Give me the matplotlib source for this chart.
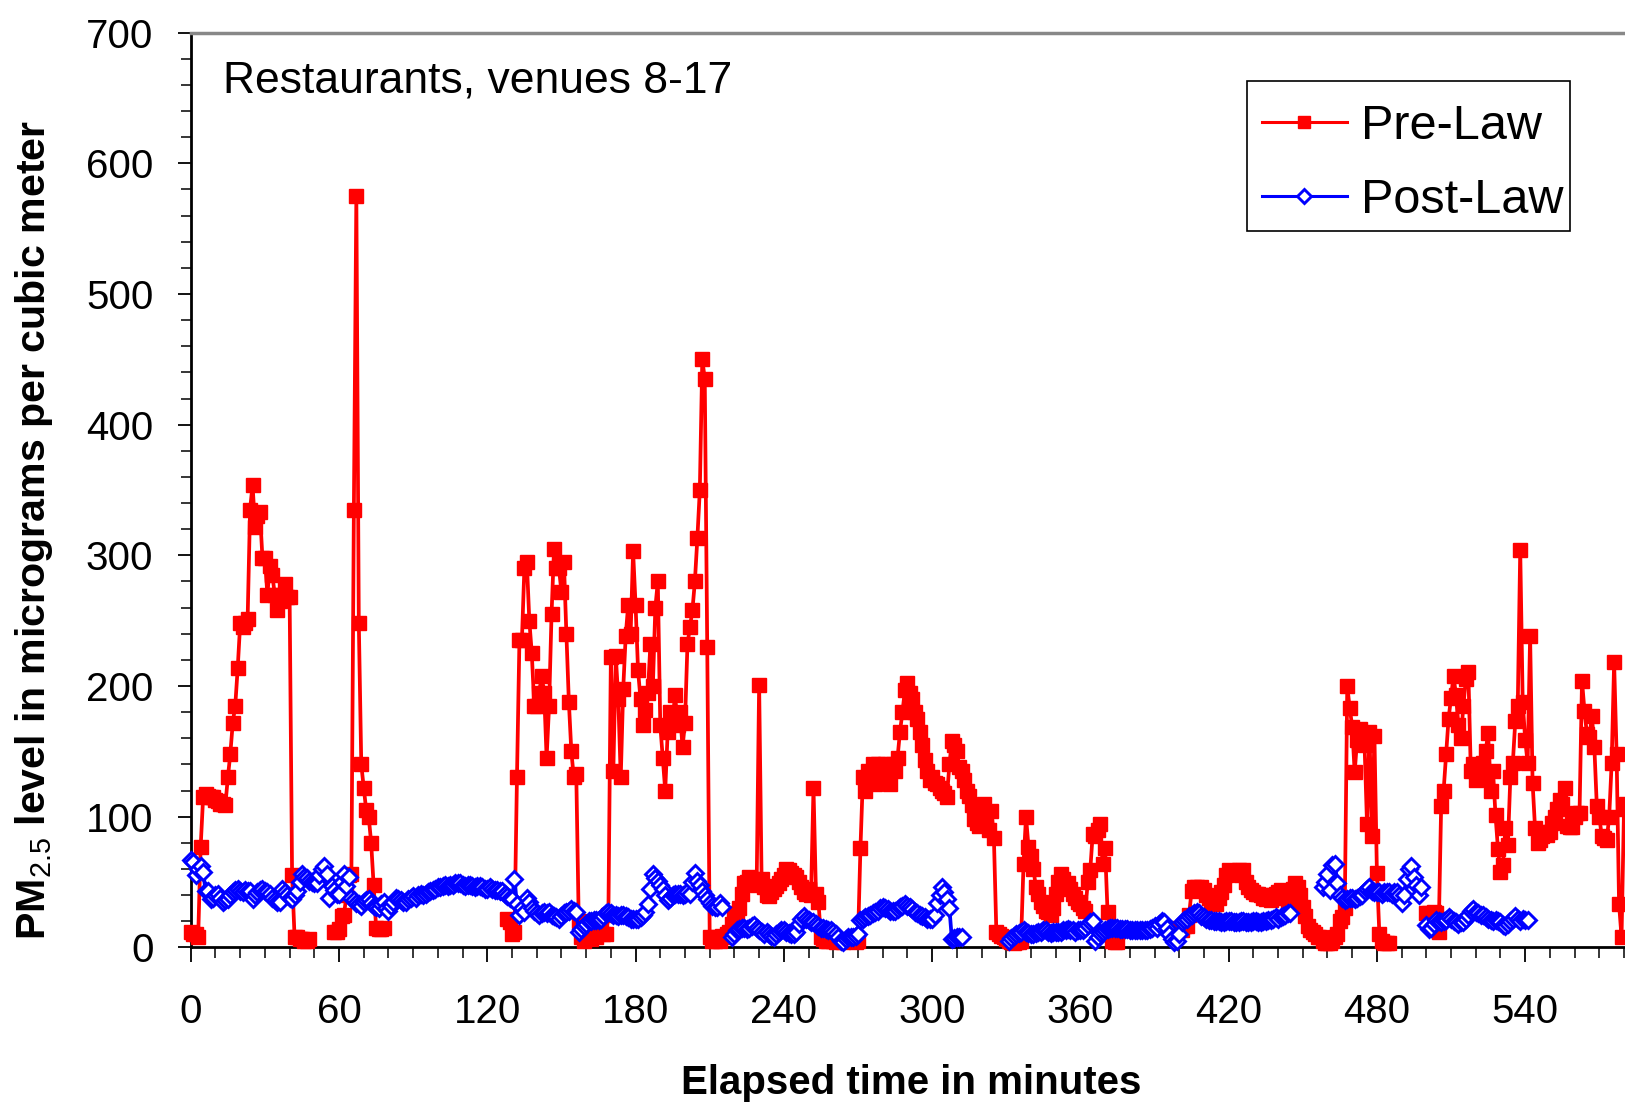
import numpy as np
import matplotlib
matplotlib.use('Agg')
import matplotlib.pyplot as plt
from matplotlib.ticker import MultipleLocator
from matplotlib.patches import Rectangle

# PM2.5 readings, one per minute; each block starts at the given minute.
# Blocks are separate logging runs, so the line breaks between them.

# ---- Pre-Law ----
pre_start_1 = 0
pre_vals_1 = [12, 10, 10, 8, 77, 115, 117, 116, 115, 115,
              113, 112, 110, 110, 109, 130, 148, 172, 185, 214,
              248, 245, 248, 251, 335, 354, 322, 330, 333, 298,
              298, 270, 292, 285, 270, 258, 265, 270, 278, 268,
              268, 55, 8, 8, 6, 6, 5, 5, 6]

pre_start_2 = 58
pre_vals_2 = [12, 12, 14, 24, 25, 40, 55, 56, 335, 575,
              248, 140, 122, 105, 100, 80, 48, 15, 14, 14, 15]

pre_start_3 = 128
pre_vals_3 = [22, 19, 10, 12, 130, 235, 235, 290, 295, 250,
              225, 185, 185, 195, 208, 195, 145, 185, 255, 305,
              290, 290, 272, 295, 240, 188, 150, 130, 133, 20,
              8, 5, 8, 10, 6, 12, 8, 15, 20, 10,
              10, 25, 222, 135, 223, 190, 130, 198, 238, 262,
              240, 303, 262, 212, 190, 170, 182, 195, 232, 200,
              260, 280, 170, 145, 120, 165, 180, 175, 193, 170,
              180, 153, 172, 232, 245, 258, 280, 313, 350, 450,
              435, 230, 8, 5, 5, 8, 5, 9, 8, 10,
              12, 18, 23, 26, 30, 41, 49, 50, 54, 52,
              50, 48, 201, 52, 46, 40, 39, 42, 45, 47,
              49, 52, 55, 60, 59, 57, 55, 54, 50, 46,
              42, 41, 45, 40, 122, 41, 35, 8, 6, 5,
              5, 6, 5, 4, 5, 5, 4, 5, 5, 5,
              5, 4, 5, 76, 130, 120, 135, 130, 140, 125,
              140, 138, 128, 140, 135, 125, 140, 135, 145, 165,
              180, 197, 202, 195, 190, 180, 175, 165, 155, 143,
              135, 128, 130, 126, 125, 122, 120, 118, 115, 140,
              158, 155, 150, 138, 135, 128, 120, 116, 109, 98,
              95, 93, 100, 110, 96, 90, 104, 84, 12, 10,
              9, 8, 6, 5, 4, 3, 4, 4, 5, 64,
              100, 77, 70, 60, 46, 41, 35, 32, 28, 27,
              25, 30, 41, 50, 56, 52, 48, 49, 45, 41,
              38, 35, 33, 30, 28, 50, 59, 87, 85, 90,
              94, 64, 76, 27, 10, 5, 4, 4]

pre_start_4 = 400
pre_vals_4 = [15, 13, 16, 16, 25, 43, 46, 46, 45, 46,
              44, 40, 38, 35, 33, 33, 38, 42, 48, 55,
              59, 58, 58, 57, 59, 55, 59, 50, 46, 44,
              42, 41, 41, 40, 38, 37, 38, 36, 40, 41,
              42, 44, 41, 38, 35, 40, 45, 49, 46, 40,
              31, 24, 16, 13, 12, 10, 8, 8, 5, 3,
              3, 3, 5, 8, 10, 20, 23, 30, 200, 183,
              169, 134, 159, 167, 160, 155, 94, 165, 85, 162,
              57, 10, 5, 3, 3, 3]

pre_start_5 = 500
pre_vals_5 = [26, 26, 25, 27, 26, 12, 108, 120, 148, 175,
              191, 208, 193, 170, 160, 185, 205, 211, 135, 140,
              128, 138, 130, 141, 150, 164, 120, 135, 101, 75,
              58, 63, 91, 78, 130, 141, 173, 185, 304, 188,
              159, 141, 238, 126, 91, 80, 82, 85, 88, 86,
              88, 95, 100, 106, 113, 110, 122, 93, 92, 92,
              100, 103, 103, 204, 181, 163, 161, 177, 153, 108,
              100, 85, 84, 82, 100, 141, 218, 148, 33, 8,
              106, 110]

# ---- Post-Law ----
post_start_1 = 0
post_vals_1 = [67, 65, 55, 60, 62, 58, 43, 43, 37, 38,
               40, 41, 38, 35, 36, 37, 40, 42, 44, 45,
               43, 42, 44, 43, 43, 37, 40, 42, 44, 45,
               43, 42, 41, 38, 36, 35, 35, 45, 42, 40,
               38, 37, 40, 43, 50, 56, 54, 53, 51, 50,
               49, 49, 55, 60, 62, 56, 38, 47, 44, 41,
               41, 50, 56, 47, 54, 38, 36, 34, 33, 32,
               35, 36, 37, 34, 32, 31, 30, 33, 35, 30,
               28, 32, 35, 38, 37, 36, 35, 35, 37, 38,
               39, 38, 40, 41, 40, 41, 42, 43, 44, 45,
               46, 46, 47, 48, 47, 48, 48, 49, 49, 49,
               48, 47, 48, 48, 47, 46, 47, 47, 46, 45,
               45, 46, 45, 44, 44, 43, 43, 41, 39, 38,
               37, 52, 33, 25, 30, 27, 38, 35, 30, 28,
               26, 25, 26, 27, 26, 27, 25, 24, 23, 22,
               24, 26, 27, 28, 29, 28, 27, 12, 14, 16,
               18, 20, 20, 21, 21, 21, 22, 24, 26, 27,
               26, 25, 25, 24, 25, 25, 24, 23, 22, 22,
               22, 22, 23, 25, 27, 33, 45, 56, 53, 51,
               48, 45, 40, 36, 38, 40, 41, 41, 41, 40,
               41, 42, 41, 50, 57, 51, 48, 43, 40, 37,
               34, 32, 31, 31, 34, 31]

post_start_2 = 219
post_vals_2 = [8, 10, 13, 14, 15, 15, 14, 15, 16, 17,
               15, 13, 12, 10, 12, 10, 9, 8, 10, 12,
               13, 13, 12, 11, 10, 10, 12, 18, 22, 24,
               22, 21, 19, 19, 18, 16, 15, 15, 14, 13,
               13, 12, 10, 8, 5, 4, 6, 8, 8, 8,
               9, 10, 21, 22, 23, 24, 25, 26, 27, 28,
               30, 31, 30, 29, 28, 28, 28, 29, 31, 32,
               33, 32, 31, 29, 27, 26, 25, 24, 23, 22,
               22, 22, 25, 34, 40, 46, 42, 37, 30, 6,
               7, 8, 8, 8]

post_start_3 = 331
post_vals_3 = [5, 7, 9, 10, 11, 12, 13, 12, 11, 10,
               10, 11, 12, 12, 13, 13, 12, 11, 12, 12,
               12, 12, 13, 13, 14, 13, 13, 12, 13, 13,
               13, 15, 17, 19, 20, 5, 8, 11, 12, 13,
               14, 15, 15, 15, 15, 14, 14, 14, 14, 13,
               13, 13, 13, 13, 13, 13, 13, 14, 15, 16,
               15, 18, 20, 19, 15, 10, 6, 4, 5, 10,
               19, 21, 22, 24, 25, 26, 27, 26, 24, 23,
               22, 21, 21, 20, 20, 20, 19, 19, 20, 20,
               20, 19, 19, 19, 20, 20, 19, 19, 19, 20,
               20, 19, 19, 20, 20, 21, 21, 22, 23, 22,
               23, 24, 25, 26, 26]

post_start_4 = 458
post_vals_4 = [46, 50, 56, 44, 63, 64, 49, 40, 38, 36,
               37, 38, 38, 37, 38, 39, 40, 43, 45, 46,
               43, 42, 42, 42, 41, 42, 42, 42, 41, 42,
               42, 40, 34, 40, 52, 60, 62, 54, 48, 40, 46]

post_start_5 = 500
post_vals_5 = [17, 14, 15, 18, 21, 20, 19, 20, 21, 23,
               22, 20, 19, 18, 19, 19, 22, 25, 28, 29,
               27, 26, 25, 25, 23, 22, 21, 20, 21, 20,
               19, 17, 16, 18, 20, 22, 24, 22, 20, 22,
               21, 21]


def join_runs(runs):
    """Concatenate (start, values) runs, with a NaN break between runs."""
    xs, ys = [], []
    for start, vals in runs:
        if xs:
            xs.append(np.nan)
            ys.append(np.nan)
        xs.extend(range(start, start + len(vals)))
        ys.extend(vals)
    return np.array(xs, dtype=float), np.array(ys, dtype=float)


x_pre, y_pre = join_runs([(pre_start_1, pre_vals_1), (pre_start_2, pre_vals_2),
                          (pre_start_3, pre_vals_3), (pre_start_4, pre_vals_4),
                          (pre_start_5, pre_vals_5)])
x_post, y_post = join_runs([(post_start_1, post_vals_1), (post_start_2, post_vals_2),
                            (post_start_3, post_vals_3), (post_start_4, post_vals_4),
                            (post_start_5, post_vals_5)])

plt.rcParams['font.family'] = ['Liberation Sans', 'DejaVu Sans']
plt.rcParams['mathtext.fontset'] = 'custom'
plt.rcParams['mathtext.rm'] = 'Liberation Sans'
plt.rcParams['mathtext.bf'] = 'Liberation Sans:bold'

fig = plt.figure(figsize=(16.25, 11.05), dpi=100)
ax = fig.add_axes([0.1174, 0.1427, 0.8826, 0.8277])

ax.plot(x_pre, y_pre, color='#ff0000', lw=2.7, marker='s', ms=9.6,
        mfc='#ff0000', mec='#ff0000', mew=1, label='Pre-Law',
        clip_on=False, zorder=3)
ax.plot(x_post, y_post, color='#0000ff', lw=2.7, marker='D', ms=8.0,
        mfc='white', mec='#0000ff', mew=2.1, label='Post-Law',
        clip_on=False, zorder=4)

ax.set_xlim(0, 580.4)
ax.set_ylim(0, 700)
ax.xaxis.set_major_locator(MultipleLocator(60))
ax.xaxis.set_minor_locator(MultipleLocator(10))
ax.yaxis.set_major_locator(MultipleLocator(100))
ax.yaxis.set_minor_locator(MultipleLocator(20))

ax.tick_params(axis='x', which='major', direction='out', length=10.8,
               width=1.3, labelsize=29, pad=22)
ax.tick_params(axis='x', which='minor', direction='out', length=8, width=1.1)
ax.tick_params(axis='y', which='major', direction='out', length=9.4,
               width=1.3, labelsize=29, pad=17.5)
ax.tick_params(axis='y', which='minor', direction='out', length=7.2, width=1.1)

ax.spines['right'].set_visible(False)
ax.spines['top'].set_color('#888888')
ax.spines['top'].set_linewidth(2.5)
for side in ('left', 'bottom'):
    ax.spines[side].set_color('black')
    ax.spines[side].set_linewidth(2)

ax.set_xlabel('Elapsed time in minutes', fontsize=29, fontweight='bold')
ax.xaxis.set_label_coords(0.5025, -0.148)
ax.xaxis.label.set_verticalalignment('center')

ax.set_ylabel(r'PM$_{\mathrm{2.5}}$ level in micrograms per cubic meter',
              fontsize=29.6, fontweight='bold')
ax.yaxis.set_label_coords(-0.1093, 0.456)
ax.yaxis.label.set_verticalalignment('center')

ax.text(0.0225, 0.935, 'Restaurants, venues 8-17', transform=ax.transAxes,
        fontsize=32, va='baseline')

# legend entries without their own frame; the box is drawn separately
leg = ax.legend(loc='upper left', bbox_to_anchor=(0.7365, 0.938),
                borderaxespad=0, fontsize=35, frameon=False,
                borderpad=0.3, handlelength=1.75, handletextpad=0.3,
                labelspacing=0.59, markerscale=0.85)
leg.set_zorder(6)
for line in leg.get_lines():
    line.set_linewidth(2.2)
box = Rectangle((0.7363, 0.7831), 0.9618 - 0.7363, 0.9474 - 0.7831,
                transform=ax.transAxes, facecolor='white', edgecolor='black',
                linewidth=1.2, zorder=5)
ax.add_patch(box)

fig.savefig('out.png', dpi=100)
